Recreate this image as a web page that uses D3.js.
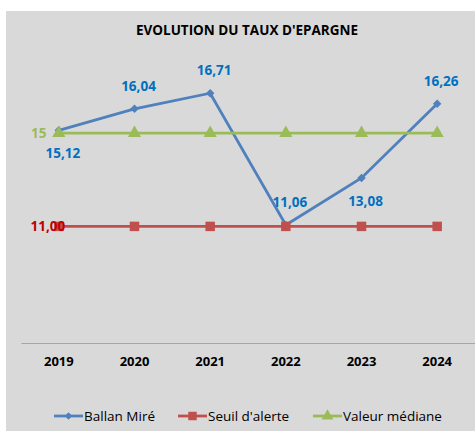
<!DOCTYPE html>
<html>
<head>
<meta charset="utf-8">
<script src="https://cdn.jsdelivr.net/npm/d3@7"></script>
<style>
  body { margin: 0; background: #fff; }
  svg { display: block; font-family: "Open Sans", sans-serif; }
</style>
</head>
<body>
<div id="chart"></div>
<script>
const years = ["2019", "2020", "2021", "2022", "2023", "2024"];
const ballan = [15.12, 16.04, 16.71, 11.06, 13.08, 16.26];
const seuil = [11, 11, 11, 11, 11, 11];
const mediane = [15, 15, 15, 15, 15, 15];
// label position of each Ballan value: above (-1) or below (+1)
const ballanLabelSide = [1, -1, -1, -1, 1, -1];

const width = 475;
const height = 431;

const svg = d3.select("#chart")
  .append("svg")
  .attr("width", width)
  .attr("height", height);

// chart background
svg.append("rect")
  .attr("x", 6).attr("y", 11)
  .attr("width", width - 6).attr("height", height - 11)
  .attr("fill", "#d9d9d9");

svg.append("text")
  .attr("x", 247).attr("y", 35)
  .attr("text-anchor", "middle")
  .attr("font-size", "13.5px")
  .attr("font-weight", "bold")
  .attr("fill", "#000")
  .text("EVOLUTION DU TAUX D'EPARGNE");

const x = d3.scaleBand()
  .domain(years)
  .range([21, 475]);

const y = d3.scaleLinear()
  .domain([6, 20])
  .range([343, 16.5]);

const cx = d => x(d) + x.bandwidth() / 2;

// x axis
const xAxis = svg.append("g")
  .attr("transform", "translate(0,343)")
  .call(d3.axisBottom(x).tickSize(0).tickPadding(14));
xAxis.select(".domain").attr("stroke", "#a6a6a6").attr("stroke-width", 1.2);
xAxis.selectAll("text")
  .attr("font-family", "Open Sans, sans-serif")
  .attr("font-size", "13px")
  .attr("font-weight", "bold")
  .attr("fill", "#000");

const series = [
  { name: "Ballan Miré", values: ballan, color: "#4f81bd", symbol: d3.symbolSquare, size: 36, rotate: 45 },
  { name: "Seuil d'alerte", values: seuil, color: "#c0504d", symbol: d3.symbolSquare, size: 90, rotate: 0 },
  { name: "Valeur médiane", values: mediane, color: "#9bbb59", symbol: d3.symbolTriangle, size: 75, rotate: 0 }
];

const line = d3.line()
  .x((d, i) => cx(years[i]))
  .y(d => y(d));

series.forEach(s => {
  svg.append("path")
    .datum(s.values)
    .attr("fill", "none")
    .attr("stroke", s.color)
    .attr("stroke-width", 2.8)
    .attr("d", line);
  svg.append("g")
    .selectAll("path")
    .data(s.values)
    .join("path")
      .attr("transform", (d, i) => `translate(${cx(years[i])},${y(d)}) rotate(${s.rotate})`)
      .attr("d", d3.symbol(s.symbol, s.size))
      .attr("fill", s.color);
});

const fmt = v => v.toFixed(2).replace(".", ",");

// Ballan labels
svg.append("g")
  .selectAll("text")
  .data(ballan)
  .join("text")
    .attr("x", (d, i) => cx(years[i]) + 4)
    .attr("y", (d, i) => y(d) + (ballanLabelSide[i] > 0 ? 28 : -18))
    .attr("text-anchor", "middle")
    .attr("font-size", "13.5px")
    .attr("font-weight", "bold")
    .attr("fill", "#0070c0")
    .text(fmt);

// seuil label (first point only)
svg.append("text")
  .attr("x", cx(years[0]) - 11)
  .attr("y", y(seuil[0]) + 5)
  .attr("text-anchor", "middle")
  .attr("font-size", "13.5px")
  .attr("font-weight", "bold")
  .attr("fill", "#c00000")
  .text(fmt(seuil[0]));

// mediane label (first point only)
svg.append("text")
  .attr("x", cx(years[0]) - 20)
  .attr("y", y(mediane[0]) + 5)
  .attr("text-anchor", "middle")
  .attr("font-size", "13.5px")
  .attr("font-weight", "bold")
  .attr("fill", "#9bbb59")
  .text(mediane[0]);

// legend
const legendX = [54, 178, 313];
const legend = svg.append("g")
  .selectAll("g")
  .data(series)
  .join("g")
    .attr("transform", (d, i) => `translate(${legendX[i]},416)`);
legend.append("line")
  .attr("x1", 0).attr("x2", 29)
  .attr("stroke", d => d.color)
  .attr("stroke-width", 2.8);
legend.append("path")
  .attr("transform", d => `translate(14.5,0) rotate(${d.rotate})`)
  .attr("d", d => d3.symbol(d.symbol, d.size * 0.8)())
  .attr("fill", d => d.color);
legend.append("text")
  .attr("x", 30).attr("y", 4.5)
  .attr("font-size", "13.5px")
  .attr("fill", "#000")
  .text(d => d.name);
</script>
</body>
</html>
